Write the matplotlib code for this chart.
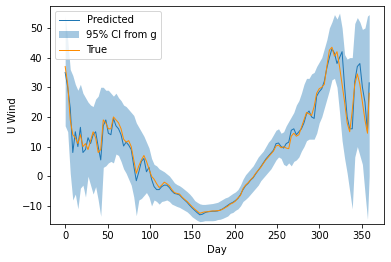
import numpy as np
import matplotlib
matplotlib.use("Agg")
import matplotlib.pyplot as plt

days = list(range(0, 358, 3)) + [359]

true_vals = [37, 31, 19, 14, 13, 11, 14, 10, 11, 9, 12, 15, 13, 8, 9, 19, 18, 16, 16, 20,
             19, 18, 16, 12.5, 11.5, 12, 10, 5.5, 1, 3.5, 5.5, 7, 5, 2.5, 0, -1, -2.5, -3.8, -3, -2,
             -2.5, -3.2, -4.5, -5.5, -5.8, -6, -7, -7.8, -8.5, -9.4, -10.3, -11.1, -11.8, -12.5, -12.2, -12, -12, -11.8, -11.7, -11.7,
             -11.6, -11.5, -11.1, -10.6, -10.1, -9.4, -9, -8.4, -7.3, -6.5, -4.2, -3, -2.2, -1.2, -0.3, 1, 2, 3, 4.3, 5.5,
             6.5, 7.5, 8.5, 10.2, 10.5, 9.6, 10, 9.5, 9.3, 13.5, 14.5, 13.5, 14, 16.5, 19, 21.5, 21, 20.5, 23.5, 28,
             29.5, 30, 31, 37, 42.5, 43.5, 40.5, 42, 37, 31, 25, 18, 15, 22, 31, 34.5, 31, 25, 19, 14.5, 28]

pred_vals = [35, 30, 23, 8, 15, 10, 16.5, 8, 9, 13, 11, 14, 15, 10, 5.5, 17, 19, 14.5, 14, 19.5,
             17, 16, 14, 10.2, 11.5, 10.5, 9, 3.5, -1.5, 1.5, 5, 6, 1.5, 3, -1, -3.5, -4.5, -4.5, -3.5, -3,
             -3, -3.8, -5, -5.8, -6, -6.3, -7.2, -8, -8.8, -9.8, -10.7, -11.5, -12.3, -13, -12.8, -12.3, -12, -11.9, -11.8, -11.8,
             -11.7, -11.4, -11, -10.4, -9.8, -9.2, -8.8, -8.2, -7.5, -6.2, -4.5, -3.2, -2.4, -1.3, -0.5, 0.8, 2, 3.2, 4.5, 5.8,
             6.8, 7.8, 8.8, 11, 11.2, 10, 9.5, 11, 11.5, 15.5, 16, 14, 15, 16, 18, 21, 22, 20, 19.5, 27,
             28.5, 29.5, 32, 36.5, 40, 43, 41.5, 38, 40, 42, 30, 20, 16, 16, 32, 37, 38, 30, 25, 15, 31.5]

ci_upper = [54, 46, 36, 34, 31, 29, 31, 28, 26.5, 25, 24, 23.5, 26, 27, 30, 30, 29, 29, 28, 27,
            28, 26.5, 25.5, 24, 23.5, 22.5, 21.5, 20.5, 18, 16.5, 15, 13.5, 11.5, 9.5, 6, 4, 3.5, 2.5, 2, 1.5,
            0.8, 0.1, -1, -2.2, -2.8, -3.2, -3.8, -4.5, -5.2, -6, -7, -8.2, -8.8, -9.3, -9.5, -9.5, -9.4, -9.3, -9.2, -9,
            -8.8, -8.3, -7.8, -7.3, -7, -6.4, -5.8, -5.3, -4.5, -3, -1, 0.5, 1.5, 2.5, 3.5, 5, 6.5, 7.5, 8.5, 10,
            11.5, 12.5, 14, 15.5, 16, 14.5, 15, 17, 18.5, 20, 21.5, 24, 25.5, 28, 31, 33, 33, 34.5, 35, 37,
            38.5, 40, 43, 46, 50, 52, 54.5, 53, 55, 50, 41, 39.5, 40, 40, 51.5, 53.5, 52, 49.5, 50, 54, 54.5]

ci_lower = [17, 15, 1, -8, -6, -11, -4, -3, -7, 0, -3, -6, -3.5, -8, -13.5, 3, 3.5, 4.5, 5, 4.5,
            7.5, 7, 5, 2.5, 1, -1, -3, -7, -13.3, -8, -7.5, -6.5, -5.5, -7, -10, -8, -8.5, -9.4, -8.5, -8.3,
            -8, -8.5, -9.4, -9.8, -10.2, -10.5, -11, -11.5, -12, -12.8, -13.7, -14.3, -14.9, -15.3, -15.2, -15, -15, -15, -15, -14.9,
            -14.6, -14.5, -14.2, -13.8, -13.4, -12.5, -12.2, -11.5, -11, -10, -8.5, -7.8, -7, -6, -5, -4, -3, -1.5, -0.5, 0.5,
            1.5, 2.5, 4, 5.5, 6.5, 6, 4, 3.5, 4.5, 3.5, 5, 5.5, 6.5, 8.5, 10, 12, 12.5, 12.5, 12.5, 14.5,
            18, 20, 23, 26, 29, 32.5, 33, 30, 21.5, 12, 6, 1, -5, -11, 6.5, 10, 7, 4, -5.5, -14.5, 0]

fig = plt.figure(figsize=(391/72, 262/72), dpi=72)
ax = fig.add_axes([49.5/391, 38/262, (384-49.5)/391, (224-6)/262])

ax.plot(days, pred_vals, color='#1f77b4', lw=1.0, label='Predicted')
ax.fill_between(days, ci_lower, ci_upper, color='#1f77b4', alpha=0.4, lw=0, label='95% CI from g')
ax.plot(days, true_vals, color='darkorange', lw=1.0, label='True')

ax.set_xlim(-18.5, 376.5)
ax.set_ylim(-16.1, 57.4)
ax.set_xticks([0, 50, 100, 150, 200, 250, 300, 350])
ax.set_yticks([-10, 0, 10, 20, 30, 40, 50])
ax.set_xlabel('Day')
ax.set_ylabel('U Wind')
ax.legend(loc='upper left')

fig.savefig('out.png', dpi=72)
